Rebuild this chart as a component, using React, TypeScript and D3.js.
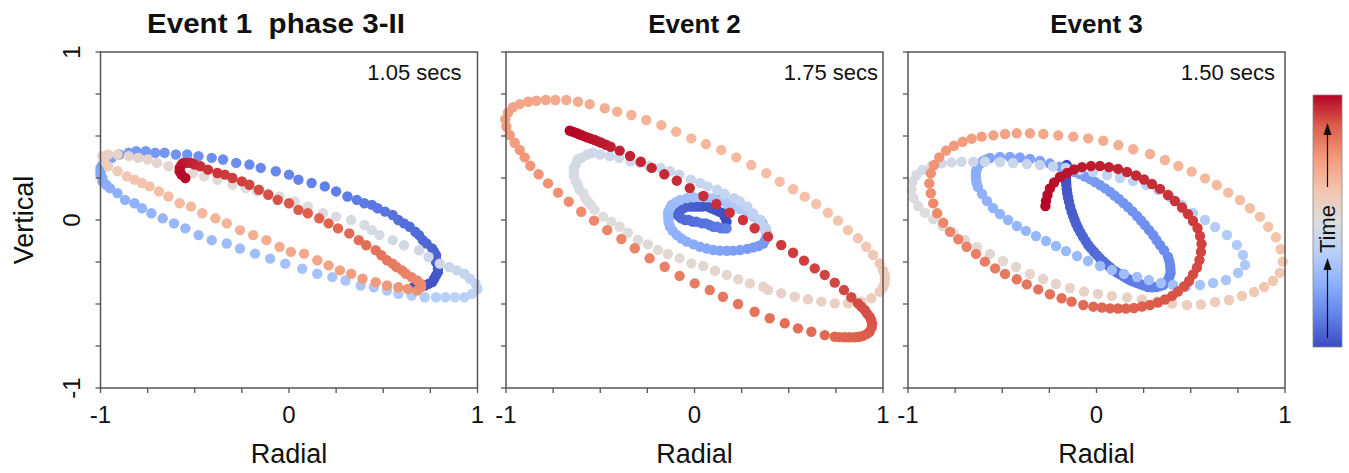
import React, { useEffect, useRef } from "react";
import * as d3 from "d3";

type Pt = [number, number];
type Seg = { t: [number, number]; pts: Pt[] };

// particle motion; t = time fraction of the colour bar
const event1: Seg[] = [
  { t: [0, 0.08], pts: [[0.66,-0.40],[0.69,-0.40],[0.72,-0.39],[0.74,-0.38],[0.76,-0.37],[0.77,-0.35],[0.78,-0.33],[0.79,-0.31],[0.79,-0.29],[0.79,-0.27],[0.78,-0.25],[0.78,-0.23],[0.78,-0.21],[0.77,-0.19],[0.76,-0.17],[0.73,-0.14],[0.71,-0.12],[0.69,-0.09],[0.67,-0.07],[0.64,-0.04]] },
  { t: [0.08, 0.2], pts: [[0.61,-0.02],[0.58,0.00],[0.55,0.03],[0.51,0.05],[0.47,0.07],[0.44,0.09],[0.40,0.10],[0.36,0.12],[0.31,0.14],[0.25,0.17],[0.19,0.20],[0.12,0.22],[0.05,0.24],[0.00,0.27],[-0.07,0.29],[-0.15,0.31],[-0.21,0.33],[-0.28,0.34],[-0.35,0.36],[-0.41,0.37],[-0.48,0.38],[-0.54,0.39],[-0.60,0.39],[-0.66,0.40],[-0.71,0.40],[-0.76,0.41],[-0.81,0.41],[-0.85,0.40]] },
  { t: [0.2, 0.36], pts: [[-0.90,0.39],[-0.94,0.37],[-0.97,0.35],[-0.99,0.33],[-1.00,0.31],[-1.00,0.29],[-1.00,0.27],[-0.99,0.25],[-0.99,0.23],[-0.97,0.21],[-0.95,0.19],[-0.91,0.16],[-0.87,0.12],[-0.82,0.10],[-0.78,0.07],[-0.73,0.04],[-0.67,0.01],[-0.61,-0.02],[-0.55,-0.05],[-0.48,-0.09],[-0.41,-0.12],[-0.33,-0.14],[-0.26,-0.17],[-0.18,-0.20],[-0.10,-0.23],[-0.02,-0.26],[0.07,-0.29],[0.15,-0.32],[0.23,-0.34],[0.30,-0.36],[0.38,-0.39],[0.45,-0.40],[0.52,-0.42],[0.58,-0.44],[0.65,-0.45]] },
  { t: [0.36, 0.45], pts: [[0.72,-0.46],[0.78,-0.46],[0.83,-0.46],[0.88,-0.46],[0.93,-0.46],[0.97,-0.44],[1.00,-0.41],[0.99,-0.38],[0.96,-0.35],[0.93,-0.32],[0.89,-0.30],[0.85,-0.28],[0.80,-0.26]] },
  { t: [0.45, 0.56], pts: [[0.74,-0.22],[0.69,-0.18],[0.61,-0.15],[0.55,-0.12],[0.48,-0.09],[0.44,-0.06],[0.40,-0.03],[0.33,0.00],[0.25,0.02],[0.18,0.04],[0.10,0.08],[0.03,0.11],[-0.05,0.14],[-0.11,0.16],[-0.17,0.17],[-0.23,0.19],[-0.30,0.21],[-0.38,0.24],[-0.45,0.26],[-0.51,0.28],[-0.57,0.30],[-0.64,0.32],[-0.70,0.34],[-0.75,0.36],[-0.80,0.37],[-0.85,0.38],[-0.91,0.39],[-0.96,0.39]] },
  { t: [0.56, 0.62], pts: [[-0.99,0.38],[-0.98,0.35],[-0.96,0.32],[-0.91,0.29],[-0.86,0.26]] },
  { t: [0.62, 0.78], pts: [[-0.82,0.24],[-0.78,0.22],[-0.74,0.20],[-0.69,0.17],[-0.64,0.14],[-0.58,0.10],[-0.52,0.08],[-0.46,0.04],[-0.39,0.01],[-0.33,-0.02],[-0.26,-0.06],[-0.19,-0.09],[-0.12,-0.12],[-0.05,-0.16],[0.01,-0.19],[0.08,-0.20],[0.15,-0.24],[0.21,-0.27],[0.27,-0.30],[0.33,-0.32],[0.39,-0.35],[0.46,-0.37],[0.52,-0.39],[0.58,-0.40],[0.63,-0.41],[0.68,-0.42]] },
  { t: [0.78, 1], pts: [[0.70,-0.40],[0.70,-0.38],[0.68,-0.36],[0.65,-0.34],[0.62,-0.32],[0.60,-0.30],[0.57,-0.28],[0.55,-0.26],[0.52,-0.24],[0.49,-0.21],[0.46,-0.18],[0.41,-0.15],[0.37,-0.12],[0.32,-0.08],[0.26,-0.05],[0.21,-0.02],[0.16,0.01],[0.10,0.04],[0.05,0.06],[0.00,0.10],[-0.06,0.12],[-0.11,0.15],[-0.16,0.18],[-0.21,0.21],[-0.25,0.23],[-0.30,0.25],[-0.34,0.27],[-0.38,0.28],[-0.43,0.30],[-0.47,0.32],[-0.50,0.33],[-0.52,0.34],[-0.54,0.34],[-0.56,0.34],[-0.57,0.33],[-0.58,0.31],[-0.58,0.29],[-0.57,0.27],[-0.55,0.25]] },
];

const event2: Seg[] = [
  { t: [0, 0.12], pts: [[0.17,-0.01],[0.16,0.02],[0.15,0.04],[0.13,0.05],[0.11,0.06],[0.09,0.07],[0.07,0.08],[0.04,0.08],[0.02,0.08],[0.00,0.08],[-0.02,0.08],[-0.04,0.08],[-0.06,0.07],[-0.08,0.05],[-0.09,0.03],[-0.08,0.02],[-0.07,0.01],[-0.05,0.00],[-0.03,0.00],[-0.01,-0.01],[0.01,-0.01],[0.04,-0.02],[0.06,-0.02],[0.08,-0.03],[0.10,-0.04],[0.12,-0.04],[0.14,-0.05],[0.16,-0.05],[0.17,-0.05]] },
  { t: [0.12, 0.38], pts: [[0.135,0.12],[0.17,0.10],[0.206,0.09],[0.24,0.07],[0.277,0.05],[0.31,0.03],[0.338,0.00],[0.36,-0.02],[0.374,-0.05],[0.38,-0.07],[0.383,-0.10],[0.375,-0.12],[0.365,-0.14],[0.34,-0.155],[0.312,-0.163],[0.28,-0.172],[0.241,-0.179],[0.205,-0.182],[0.171,-0.183],[0.135,-0.182],[0.10,-0.179],[0.065,-0.17],[0.029,-0.159],[-0.005,-0.145],[-0.041,-0.129],[-0.07,-0.11],[-0.094,-0.089],[-0.115,-0.065],[-0.13,-0.04],[-0.137,-0.015],[-0.139,0.01],[-0.14,0.03],[-0.139,0.049],[-0.13,0.07],[-0.121,0.089],[-0.10,0.105],[-0.077,0.119],[-0.04,0.13],[-0.006,0.135],[0.03,0.136],[0.065,0.135],[0.10,0.128],[0.135,0.115],[0.17,0.10],[0.206,0.085],[0.24,0.065],[0.277,0.045],[0.31,0.02],[0.338,0.00],[0.36,-0.03],[0.375,-0.06]] },
  { t: [0.4, 0.5], pts: [[0.39,-0.10],[0.38,-0.05],[0.35,0.00],[0.31,0.04],[0.28,0.08],[0.24,0.11],[0.21,0.13],[0.16,0.155],[0.12,0.18],[0.07,0.20],[0.03,0.22],[-0.02,0.24],[-0.08,0.27],[-0.13,0.29],[-0.18,0.31],[-0.24,0.32],[-0.29,0.34],[-0.34,0.35],[-0.40,0.37],[-0.45,0.38],[-0.50,0.39],[-0.54,0.40],[-0.57,0.39],[-0.60,0.37],[-0.62,0.36],[-0.63,0.33],[-0.64,0.31],[-0.64,0.28],[-0.64,0.26],[-0.63,0.23],[-0.62,0.21],[-0.61,0.18],[-0.59,0.16],[-0.58,0.13],[-0.565,0.11],[-0.55,0.09],[-0.53,0.06]] },
  { t: [0.5, 0.6], pts: [[-0.485,0.02],[-0.441,-0.01],[-0.397,-0.04],[-0.353,-0.076],[-0.30,-0.119],[-0.247,-0.145],[-0.194,-0.179],[-0.141,-0.202],[-0.079,-0.228],[-0.017,-0.258],[0.047,-0.274],[0.109,-0.302],[0.171,-0.327],[0.232,-0.353],[0.294,-0.377],[0.365,-0.397],[0.39,-0.417],[0.46,-0.436],[0.532,-0.457],[0.602,-0.472],[0.673,-0.486],[0.744,-0.496],[0.814,-0.496],[0.885,-0.486],[0.938,-0.466],[0.982,-0.427],[1.0,-0.40],[1.009,-0.377],[1.01,-0.35],[1.009,-0.327],[1.0,-0.30]] },
  { t: [0.6, 0.72], pts: [[0.982,-0.258],[0.947,-0.208],[0.911,-0.159],[0.867,-0.109],[0.814,-0.06],[0.761,-0.004],[0.708,0.043],[0.646,0.095],[0.585,0.139],[0.523,0.183],[0.452,0.228],[0.381,0.278],[0.301,0.327],[0.222,0.373],[0.142,0.417],[0.061,0.452],[-0.017,0.486],[-0.097,0.526],[-0.176,0.565],[-0.256,0.595],[-0.335,0.625],[-0.41,0.645],[-0.476,0.665],[-0.556,0.69],[-0.618,0.704],[-0.68,0.714],[-0.738,0.714],[-0.789,0.714],[-0.839,0.71],[-0.883,0.704]] },
  { t: [0.72, 0.86], pts: [[-0.927,0.69],[-0.963,0.671],[-0.989,0.639],[-1.004,0.599],[-0.998,0.555],[-0.98,0.506],[-0.954,0.46],[-0.927,0.417],[-0.901,0.373],[-0.871,0.323],[-0.827,0.272],[-0.777,0.218],[-0.724,0.163],[-0.667,0.109],[-0.601,0.049],[-0.533,-0.004],[-0.463,-0.06],[-0.388,-0.113],[-0.317,-0.168],[-0.238,-0.228],[-0.158,-0.278],[-0.079,-0.333],[0.001,-0.377],[0.081,-0.417],[0.151,-0.457],[0.231,-0.5],[0.319,-0.546],[0.399,-0.585],[0.479,-0.615],[0.549,-0.645],[0.62,-0.665],[0.691,-0.685]] },
  { t: [0.86, 1], pts: [[0.744,-0.695],[0.77,-0.697],[0.797,-0.698],[0.823,-0.698],[0.85,-0.698],[0.874,-0.695],[0.894,-0.69],[0.915,-0.678],[0.929,-0.665],[0.94,-0.64],[0.942,-0.615],[0.937,-0.595],[0.929,-0.576],[0.915,-0.556],[0.903,-0.536],[0.885,-0.516],[0.867,-0.496],[0.832,-0.46],[0.793,-0.417],[0.744,-0.373],[0.691,-0.327],[0.638,-0.288],[0.581,-0.242],[0.523,-0.195],[0.46,-0.149],[0.39,-0.099],[0.319,-0.049],[0.257,0.0],[0.187,0.043],[0.116,0.095],[0.047,0.143],[-0.025,0.19],[-0.094,0.234],[-0.16,0.272],[-0.227,0.31],[-0.285,0.347],[-0.342,0.381],[-0.397,0.413],[-0.445,0.436],[-0.47,0.448],[-0.494,0.46],[-0.512,0.468],[-0.529,0.476],[-0.547,0.483],[-0.565,0.49],[-0.583,0.498],[-0.601,0.506],[-0.617,0.513],[-0.632,0.52],[-0.647,0.526],[-0.662,0.532]] },
];

const event3: Seg[] = [
  { t: [0, 0.12], pts: [[-0.158,0.327],[-0.162,0.308],[-0.162,0.288],[-0.162,0.268],[-0.162,0.248],[-0.161,0.228],[-0.16,0.208],[-0.158,0.183],[-0.155,0.159],[-0.151,0.134],[-0.146,0.109],[-0.14,0.079],[-0.132,0.049],[-0.124,0.024],[-0.116,0.0],[-0.107,-0.025],[-0.097,-0.049],[-0.085,-0.074],[-0.072,-0.099],[-0.058,-0.124],[-0.044,-0.149],[-0.029,-0.169],[-0.013,-0.189],[0.003,-0.209],[0.019,-0.228],[0.037,-0.246],[0.054,-0.264],[0.072,-0.281],[0.089,-0.298],[0.107,-0.311],[0.125,-0.323],[0.143,-0.335],[0.16,-0.347],[0.178,-0.357],[0.195,-0.367],[0.213,-0.374],[0.231,-0.381],[0.252,-0.39]] },
  { t: [0.12, 0.22], pts: [[0.273,-0.399],[0.295,-0.4],[0.316,-0.399],[0.335,-0.394],[0.353,-0.387],[0.368,-0.373],[0.379,-0.357],[0.387,-0.337],[0.393,-0.315],[0.392,-0.292],[0.39,-0.268],[0.386,-0.243],[0.379,-0.218],[0.358,-0.18],[0.337,-0.149],[0.318,-0.119],[0.3,-0.089],[0.279,-0.06],[0.257,-0.03],[0.236,-0.003],[0.215,0.024],[0.191,0.051],[0.167,0.077],[0.143,0.101],[0.119,0.125],[0.095,0.146],[0.072,0.167],[0.046,0.188],[0.019,0.208],[-0.008,0.226],[-0.034,0.244],[-0.061,0.259],[-0.088,0.274],[-0.115,0.286],[-0.141,0.298],[-0.194,0.318],[-0.247,0.336],[-0.3,0.351],[-0.353,0.363],[-0.406,0.372],[-0.459,0.375],[-0.512,0.375]] },
  { t: [0.22, 0.32], pts: [[-0.565,0.369],[-0.585,0.36],[-0.602,0.351],[-0.617,0.336],[-0.629,0.321],[-0.635,0.303],[-0.639,0.286],[-0.64,0.262],[-0.639,0.238],[-0.635,0.217],[-0.629,0.196],[-0.607,0.155],[-0.581,0.113],[-0.549,0.071],[-0.512,0.036],[-0.469,0.0],[-0.422,-0.036],[-0.374,-0.065],[-0.321,-0.095],[-0.268,-0.125],[-0.215,-0.155],[-0.162,-0.185],[-0.103,-0.214],[-0.045,-0.244],[0.019,-0.274],[0.082,-0.298],[0.146,-0.321],[0.215,-0.339],[0.278,-0.357],[0.342,-0.375],[0.406,-0.387]] },
  { t: [0.32, 0.44], pts: [[0.475,-0.397],[0.549,-0.387],[0.618,-0.375],[0.687,-0.357],[0.751,-0.315],[0.788,-0.268],[0.777,-0.208],[0.745,-0.149],[0.692,-0.089],[0.629,-0.042],[0.576,0.0],[0.512,0.042],[0.454,0.089],[0.39,0.137],[0.326,0.179],[0.263,0.208],[0.194,0.232],[0.125,0.25],[0.056,0.268],[-0.019,0.286],[-0.088,0.298],[-0.162,0.31],[-0.231,0.318],[-0.3,0.327],[-0.369,0.333],[-0.443,0.339],[-0.512,0.345]] },
  { t: [0.44, 0.52], pts: [[-0.592,0.347],[-0.654,0.347],[-0.716,0.347],[-0.769,0.343],[-0.822,0.337],[-0.875,0.321],[-0.923,0.298],[-0.955,0.268],[-0.976,0.228],[-0.981,0.179],[-0.969,0.129],[-0.946,0.083],[-0.91,0.043],[-0.866,0.004],[-0.816,-0.036],[-0.76,-0.076]] },
  { t: [0.52, 0.62], pts: [[-0.698,-0.119],[-0.634,-0.161],[-0.565,-0.202],[-0.496,-0.244],[-0.427,-0.28],[-0.353,-0.321],[-0.284,-0.351],[-0.215,-0.381],[-0.141,-0.405],[-0.066,-0.426],[0.008,-0.44],[0.082,-0.452],[0.162,-0.461],[0.241,-0.473],[0.321,-0.485],[0.401,-0.497],[0.48,-0.506],[0.554,-0.503],[0.629,-0.488],[0.703,-0.476],[0.772,-0.452],[0.836,-0.429],[0.889,-0.399],[0.936,-0.363],[0.973,-0.314],[0.988,-0.248]] },
  { t: [0.62, 0.76], pts: [[0.977,-0.174],[0.952,-0.103],[0.911,-0.04],[0.867,0.02],[0.814,0.07],[0.761,0.119],[0.699,0.163],[0.638,0.208],[0.576,0.248],[0.505,0.288],[0.434,0.321],[0.363,0.357],[0.284,0.393],[0.195,0.421],[0.116,0.446],[0.036,0.472],[-0.044,0.486],[-0.123,0.496],[-0.203,0.504],[-0.282,0.512],[-0.353,0.516],[-0.423,0.516],[-0.485,0.512],[-0.547,0.504],[-0.609,0.496],[-0.662,0.484],[-0.71,0.466],[-0.756,0.442],[-0.798,0.413]] },
  { t: [0.76, 0.86], pts: [[-0.834,0.373],[-0.862,0.327],[-0.879,0.278],[-0.887,0.218],[-0.879,0.159],[-0.866,0.099],[-0.845,0.04],[-0.813,-0.016],[-0.777,-0.07],[-0.733,-0.115],[-0.689,-0.159],[-0.639,-0.202],[-0.592,-0.248],[-0.538,-0.288],[-0.485,-0.321],[-0.423,-0.353],[-0.37,-0.383],[-0.309,-0.413],[-0.247,-0.442],[-0.185,-0.466],[-0.132,-0.486],[-0.07,-0.506],[-0.017,-0.516]] },
  { t: [0.86, 1], pts: [[0.029,-0.521],[0.072,-0.526],[0.114,-0.527],[0.156,-0.527],[0.199,-0.524],[0.241,-0.515],[0.284,-0.506],[0.326,-0.491],[0.363,-0.473],[0.401,-0.452],[0.432,-0.426],[0.464,-0.396],[0.491,-0.363],[0.512,-0.324],[0.533,-0.283],[0.546,-0.238],[0.554,-0.19],[0.557,-0.143],[0.549,-0.095],[0.536,-0.048],[0.512,-0.006],[0.485,0.036],[0.454,0.074],[0.416,0.113],[0.379,0.149],[0.337,0.185],[0.294,0.214],[0.252,0.241],[0.21,0.265],[0.162,0.286],[0.114,0.304],[0.066,0.315],[0.019,0.321],[-0.029,0.321],[-0.077,0.315],[-0.119,0.301],[-0.156,0.28],[-0.194,0.256],[-0.225,0.223],[-0.247,0.188],[-0.26,0.149],[-0.268,0.113],[-0.271,0.083]] },
];

const events = [event1, event2, event3];
const titles = ["Event 1  phase 3-II", "Event 2", "Event 3"];
const durations = ["1.05 secs", "1.75 secs", "1.50 secs"];
const labelTicks = [-1, 0, 1];
const minorTicks = [-1, -0.75, -0.5, -0.25, 0, 0.25, 0.5, 0.75, 1];

// matplotlib "coolwarm"
const cwStops = [0, 0.125, 0.25, 0.375, 0.5, 0.625, 0.75, 0.875, 1];
const cwColors = ["#3b4cc0", "#6282ea", "#8db0fe", "#b8d0f9", "#dddddd", "#f5c4ac", "#f49a7b", "#de604d", "#b40426"];

export default function App() {
  const ref = useRef<SVGSVGElement>(null);

  useEffect(() => {
    const svg = d3.select(ref.current);
    svg.selectAll("*").remove();

    const font = "'Liberation Sans', Arial, Helvetica, sans-serif";
    const color = d3.scaleLinear<string>().domain(cwStops).range(cwColors).interpolate(d3.interpolateRgb);

    const panels = [
      { x0: 100.5, x1: 477.5, inset: 16 },
      { x0: 506, x1: 883, inset: 5 },
      { x0: 908, x1: 1285, inset: 10 },
    ];
    const y = d3.scaleLinear().domain([-1, 1]).range([388, 52]);
    const frameCol = "#555";

    panels.forEach((p, k) => {
      const x = d3.scaleLinear().domain([-1, 1]).range([p.x0, p.x1]);
      const g = svg.append("g");

      // dots, in time order so later ones sit on top
      const dots: { x: number; y: number; t: number }[] = [];
      events[k].forEach((s) => {
        const n = s.pts.length;
        s.pts.forEach((d, i) => {
          dots.push({ x: d[0], y: d[1], t: s.t[0] + ((s.t[1] - s.t[0]) * i) / n });
        });
      });
      g.append("g")
        .selectAll("circle")
        .data(dots)
        .enter()
        .append("circle")
        .attr("cx", (d) => x(d.x))
        .attr("cy", (d) => y(d.y))
        .attr("r", 5.2)
        .attr("fill", (d) => color(d.t));

      // frame
      g.append("rect")
        .attr("x", p.x0)
        .attr("y", y(1))
        .attr("width", p.x1 - p.x0)
        .attr("height", y(-1) - y(1))
        .attr("fill", "none")
        .attr("stroke", frameCol)
        .attr("stroke-width", 1.5);

      // ticks
      g.append("g")
        .selectAll("line")
        .data(minorTicks)
        .enter()
        .append("line")
        .attr("x1", (d) => x(d))
        .attr("x2", (d) => x(d))
        .attr("y1", y(-1))
        .attr("y2", y(-1) + 5)
        .attr("stroke", frameCol)
        .attr("stroke-width", 1.3);
      g.append("g")
        .selectAll("line")
        .data(minorTicks)
        .enter()
        .append("line")
        .attr("x1", p.x0 - 5)
        .attr("x2", p.x0)
        .attr("y1", (d) => y(d))
        .attr("y2", (d) => y(d))
        .attr("stroke", frameCol)
        .attr("stroke-width", 1.3);

      g.append("g")
        .selectAll("text")
        .data(labelTicks)
        .enter()
        .append("text")
        .attr("x", (d) => x(d))
        .attr("y", 423)
        .attr("text-anchor", "middle")
        .attr("font-family", font)
        .attr("font-size", 24)
        .attr("fill", "#111")
        .text((d) => String(d));

      if (k === 0) {
        g.append("g")
          .selectAll("text")
          .data(labelTicks)
          .enter()
          .append("text")
          .attr("transform", (d) => `translate(80,${y(d)}) rotate(-90)`)
          .attr("text-anchor", "middle")
          .attr("font-family", font)
          .attr("font-size", 24)
          .attr("fill", "#111")
          .text((d) => String(d));
        g.append("text")
          .attr("transform", `translate(33,${y(0)}) rotate(-90)`)
          .attr("text-anchor", "middle")
          .attr("font-family", font)
          .attr("font-size", 27)
          .attr("fill", "#111")
          .text("Vertical");
      }

      g.append("text")
        .attr("x", x(0))
        .attr("y", 463)
        .attr("text-anchor", "middle")
        .attr("font-family", font)
        .attr("font-size", 27)
        .attr("fill", "#111")
        .text("Radial");

      const title = g.append("text")
        .attr("x", k === 0 ? 147 : x(0))
        .attr("y", 33)
        .attr("text-anchor", k === 0 ? "start" : "middle")
        .attr("font-family", font)
        .attr("font-size", k === 0 ? 27 : 26)
        .attr("font-weight", "bold")
        .attr("fill", "#111")
        .style("white-space", "pre")
        .text(titles[k]);
      if (k === 0) title.attr("textLength", 258).attr("lengthAdjust", "spacingAndGlyphs");

      g.append("text")
        .attr("x", p.x1 - p.inset)
        .attr("y", 80)
        .attr("text-anchor", "end")
        .attr("font-family", font)
        .attr("font-size", 22)
        .attr("fill", "#111")
        .text(durations[k]);
    });

    // colour bar
    const defs = svg.append("defs");
    const grad = defs
      .append("linearGradient")
      .attr("id", "cw")
      .attr("x1", 0)
      .attr("y1", 1)
      .attr("x2", 0)
      .attr("y2", 0);
    grad
      .selectAll("stop")
      .data(cwStops)
      .enter()
      .append("stop")
      .attr("offset", (d) => d)
      .attr("stop-color", (d) => color(d));

    const cb = { x: 1313, y: 95, w: 29, h: 252 };
    svg.append("rect")
      .attr("x", cb.x)
      .attr("y", cb.y)
      .attr("width", cb.w)
      .attr("height", cb.h)
      .attr("fill", "url(#cw)")
      .attr("stroke", "#888")
      .attr("stroke-width", 0.8);

    const ax = cb.x + cb.w / 2;
    const arrow = (yTail: number, yHead: number) => {
      svg.append("line")
        .attr("x1", ax)
        .attr("x2", ax)
        .attr("y1", yTail)
        .attr("y2", yHead + 8)
        .attr("stroke", "#111")
        .attr("stroke-width", 1.2);
      svg.append("path")
        .attr("d", `M${ax},${yHead} L${ax - 4},${yHead + 12} L${ax + 4},${yHead + 12} Z`)
        .attr("fill", "#111");
    };
    arrow(187, 123);
    arrow(338, 258);

    svg.append("text")
      .attr("transform", `translate(${ax + 7},229) rotate(-90)`)
      .attr("text-anchor", "middle")
      .attr("font-family", font)
      .attr("font-size", 22)
      .attr("fill", "#111")
      .text("Time");
  }, []);

  return (
    <svg
      ref={ref}
      width={1349}
      height={473}
      style={{ position: "absolute", left: 0, top: 0, display: "block", background: "#fff" }}
    />
  );
}
